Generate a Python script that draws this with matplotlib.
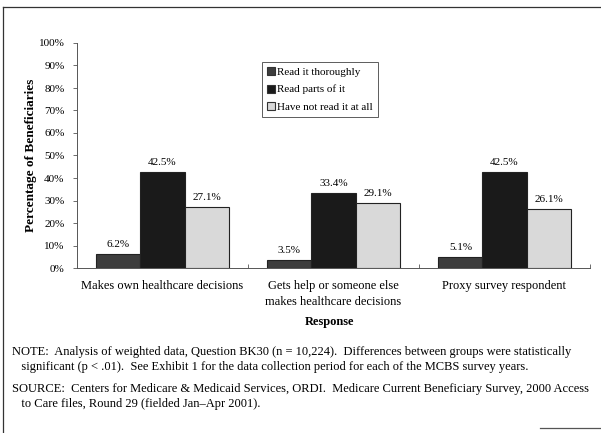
import numpy as np
import matplotlib
matplotlib.use("Agg")
import matplotlib.pyplot as plt
from matplotlib.lines import Line2D

plt.rcParams['font.family'] = ['Liberation Serif', 'DejaVu Serif']

categories = ['Makes own healthcare decisions',
              'Gets help or someone else\nmakes healthcare decisions',
              'Proxy survey respondent']
series_names = ['Read it thoroughly', 'Read parts of it', 'Have not read it at all']
thorough = [6.2, 3.5, 5.1]
parts = [42.5, 33.4, 42.5]
not_read = [27.1, 29.1, 26.1]
yticks = [0, 10, 20, 30, 40, 50, 60, 70, 80, 90, 100]

colors = ['#3d3d3d', '#1a1a1a', '#d9d9d9']

fig = plt.figure(figsize=(6.01, 4.33), dpi=100)
ax = fig.add_axes([77 / 601, 1 - 268 / 433, 513 / 601, 225 / 433])

x = np.arange(len(categories))
w = 0.258
all_series = [thorough, parts, not_read]
for i, vals in enumerate(all_series):
    pos = x + (i - 1) * w
    ax.bar(pos, vals, width=w, color=colors[i], edgecolor='#222222',
           linewidth=0.8, label=series_names[i], zorder=2)
    for p, v in zip(pos, vals):
        ax.text(p, v + 2.2, '%.1f%%' % v, ha='center', va='bottom', fontsize=8)

ax.set_xlim(-0.5, 2.5)
ax.set_ylim(0, 100)
ax.set_yticks(yticks)
ax.set_yticklabels(['%d%%' % t for t in yticks], fontsize=8)
ax.set_xticks([0.5, 1.5, 2.5])
ax.set_xticklabels([])
ax.tick_params(axis='x', length=3, direction='in', width=0.6, color='#555555')
ax.tick_params(axis='y', length=3, width=0.6, color='#555555', pad=6)
for c, lab in zip(x, categories):
    ax.text(c, -5.5, lab, ha='center', va='top', fontsize=9, linespacing=1.35)

for s in ['top', 'right']:
    ax.spines[s].set_visible(False)
for s in ['left', 'bottom']:
    ax.spines[s].set_color('#555555')
    ax.spines[s].set_linewidth(0.7)

ax.set_ylabel('Percentage of Beneficiaries', fontsize=9.5, fontweight='bold', labelpad=1)
fig.text(330 / 601, 1 - 322 / 433, 'Response', ha='center', va='center',
         fontsize=9, fontweight='bold')

handles = [Line2D([0], [0], marker='s', linestyle='', markersize=6,
                  markerfacecolor=colors[i], markeredgecolor='#333333',
                  markeredgewidth=0.8) for i in range(3)]
leg = ax.legend(handles, series_names, loc='upper left',
                bbox_to_anchor=(0.361, 0.915), fontsize=8, frameon=True,
                fancybox=False, edgecolor='#333333', handlelength=0.6,
                handletextpad=0.3, borderpad=0.45, labelspacing=0.7,
                borderaxespad=0)
leg.get_frame().set_linewidth(0.7)

note = ("NOTE:  Analysis of weighted data, Question BK30 (n = 10,224).  Differences between groups were statistically\n"
        "   significant (p < .01).  See Exhibit 1 for the data collection period for each of the MCBS survey years.")
source = ("SOURCE:  Centers for Medicare & Medicaid Services, ORDI.  Medicare Current Beneficiary Survey, 2000 Access\n"
          "   to Care files, Round 29 (fielded Jan\u2013Apr 2001).")
fig.text(12 / 601, 1 - 346 / 433, note, ha='left', va='top', fontsize=9, linespacing=1.3)
fig.text(12 / 601, 1 - 383 / 433, source, ha='left', va='top', fontsize=9, linespacing=1.3)

# page frame
fig.add_artist(Line2D([3 / 601, 3 / 601], [0, 1 - 7 / 433], color='#333333', lw=0.9))
fig.add_artist(Line2D([3 / 601, 600 / 601], [1 - 7 / 433, 1 - 7 / 433], color='#333333', lw=0.9))
fig.add_artist(Line2D([540 / 601, 600 / 601], [1 - 428 / 433, 1 - 428 / 433], color='#555555', lw=0.9))

fig.savefig('out.png', dpi=100)
